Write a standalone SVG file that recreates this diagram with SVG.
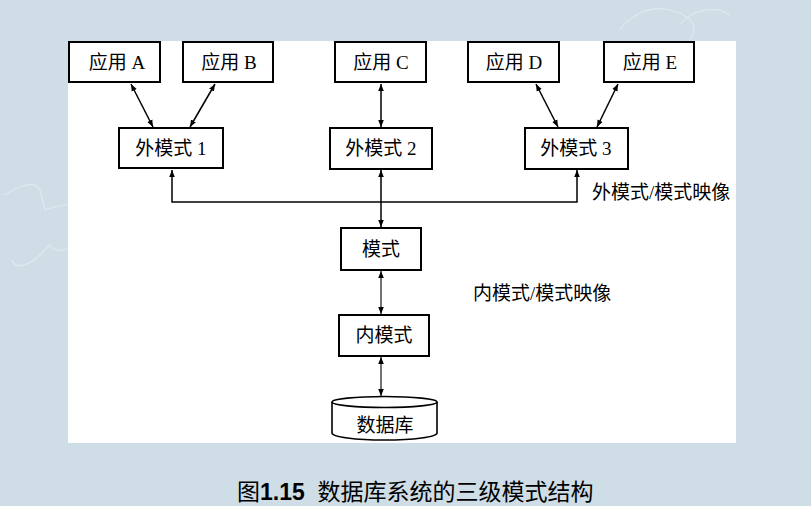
<svg xmlns="http://www.w3.org/2000/svg" width="811" height="506" viewBox="0 0 811 506">
<defs>
<marker id="ah" viewBox="0 0 10 10" refX="10" refY="5" markerWidth="7" markerHeight="7" markerUnits="userSpaceOnUse" orient="auto-start-reverse">
<path d="M0,1 L10,5 L0,9 Z" fill="#000"/>
</marker>
<style>
.box{fill:#fff;stroke:#000;stroke-width:2}
.lbl{font-family:"Liberation Serif","Noto Sans CJK SC",serif;font-size:19px;fill:#000;text-anchor:middle}
.note{font-family:"Liberation Serif","Noto Sans CJK SC",serif;font-size:19px;fill:#000}
.c{fill:none;stroke:#000;stroke-width:1.5}
.c2{fill:none;stroke:#000;stroke-width:1.1}
</style>
</defs>
<rect x="0" y="0" width="811" height="506" fill="#cedde6"/>
<g fill="none" stroke="#e3ecf2" stroke-width="1.2" opacity="0.8">
<path d="M5,195 C20,185 35,180 40,190 L45,210 C60,205 75,200 80,215 L85,240 C70,250 55,255 50,245 L40,255 C30,265 15,270 12,260"/>
<path d="M620,30 C630,15 650,5 670,10 C690,15 700,25 690,40"/>
<path d="M680,25 C690,10 715,5 730,15"/>
</g>
<rect x="68" y="41" width="668" height="402" fill="#fff"/>
<g id="connectors">
<line class="c" x1="131" y1="84" x2="153" y2="127" marker-start="url(#ah)" marker-end="url(#ah)"/>
<line class="c" x1="215" y1="84" x2="190" y2="127" marker-start="url(#ah)" marker-end="url(#ah)"/>
<line class="c" x1="381" y1="84" x2="381" y2="127" marker-start="url(#ah)" marker-end="url(#ah)"/>
<line class="c" x1="536" y1="84" x2="558" y2="127" marker-start="url(#ah)" marker-end="url(#ah)"/>
<line class="c" x1="618" y1="84" x2="597" y2="127" marker-start="url(#ah)" marker-end="url(#ah)"/>
<polyline class="c" points="172,170 172,202 577,202 577,170" marker-start="url(#ah)" marker-end="url(#ah)"/>
<line class="c" x1="381" y1="170" x2="381" y2="227" marker-start="url(#ah)" marker-end="url(#ah)"/>
<line class="c2" x1="381" y1="271" x2="381" y2="314" marker-start="url(#ah)" marker-end="url(#ah)"/>
<line class="c2" x1="381" y1="357" x2="381" y2="396" marker-start="url(#ah)" marker-end="url(#ah)"/>
</g>
<g id="appA"><rect class="box" x="69" y="42" width="91" height="40"/><text class="lbl" x="117" y="69">应用 A</text></g>
<g id="appB"><rect class="box" x="183" y="42" width="90" height="40"/><text class="lbl" x="229" y="69">应用 B</text></g>
<g id="appC"><rect class="box" x="335" y="42" width="91" height="40"/><text class="lbl" x="381" y="69">应用 C</text></g>
<g id="appD"><rect class="box" x="468" y="42" width="91" height="40"/><text class="lbl" x="514" y="69">应用 D</text></g>
<g id="appE"><rect class="box" x="604" y="42" width="90" height="40"/><text class="lbl" x="650" y="69">应用 E</text></g>
<g id="ext1"><rect class="box" x="119" y="128" width="104" height="40"/><text class="lbl" x="171" y="155">外模式 1</text></g>
<g id="ext2"><rect class="box" x="330" y="128" width="102" height="41"/><text class="lbl" x="381" y="155">外模式 2</text></g>
<g id="ext3"><rect class="box" x="525" y="128" width="103" height="41"/><text class="lbl" x="576" y="155">外模式 3</text></g>
<g id="schema"><rect class="box" x="341" y="228" width="80" height="42"/><text class="lbl" x="381" y="256">模式</text></g>
<g id="internal"><rect class="box" x="339" y="315" width="90" height="41"/><text class="lbl" x="384" y="342">内模式</text></g>
<g id="db">
<path d="M332,402 L332,433 A52.5,7 0 0 0 437,433 L437,402" fill="#fff" stroke="#000" stroke-width="1.6"/>
<ellipse cx="384.5" cy="402" rx="52.5" ry="5.5" fill="#fff" stroke="#000" stroke-width="1.6"/>
<text class="lbl" x="385" y="432">数据库</text>
</g>
<text class="note" x="592" y="199">外模式/模式映像</text>
<text class="note" x="473" y="300">内模式/模式映像</text>
<text x="237" y="500" xml:space="preserve" font-family="'Liberation Sans','Noto Sans CJK SC',sans-serif" font-size="23" fill="#000">图<tspan font-weight="bold">1.15</tspan>  数据库系统的三级模式结构</text>
</svg>
